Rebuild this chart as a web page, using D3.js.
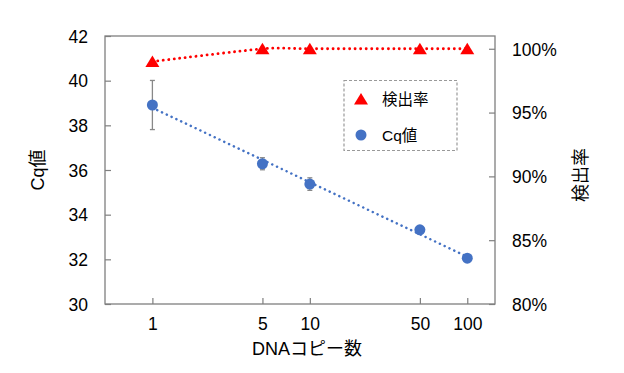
<!DOCTYPE html>
<html><head><meta charset="utf-8">
<script src="https://cdn.jsdelivr.net/npm/d3@7"></script>
<style>
body{margin:0;background:#fff;}
text{font-family:"Liberation Sans",Arial,"Noto Sans CJK JP",sans-serif;fill:#000;}
</style></head>
<body><svg id="c" width="624" height="373"></svg>
<script>
const copies = [1, 5, 10, 50, 100];
const cqValues = [38.91, 36.28, 35.37, 33.32, 32.05];
const cqErrors = [1.1, 0.27, 0.28, 0.1, 0.1];
const detectRate = [0.99, 1.0, 1.0, 1.0, 1.0];
const xTicks = [1, 5, 10, 50, 100];
const leftTicks = [30, 32, 34, 36, 38, 40, 42];
const rightTicks = [0.80, 0.85, 0.90, 0.95, 1.00];

const W = 624, H = 373;
const m = {left:105, right:129, top:36, bottom:69};
const svg = d3.select("#c");
const x = d3.scaleLog().domain([0.5, 150]).range([m.left, W - m.right]);
const yL = d3.scaleLinear().domain([30, 42]).range([H - m.bottom, m.top]);
const yR = d3.scaleLinear().domain([0.80, 1.01]).range([H - m.bottom, m.top]);

const frameCol = "#7f7f7f";
svg.append("rect").attr("x", m.left).attr("y", m.top)
  .attr("width", W - m.left - m.right).attr("height", H - m.top - m.bottom)
  .attr("fill","none").attr("stroke", frameCol).attr("stroke-width",1.3);

const fs = "17.5px";
const axL = svg.append("g").attr("transform",`translate(${m.left},0)`)
  .call(d3.axisLeft(yL).tickValues(leftTicks).tickSize(-6).tickPadding(17).tickFormat(d3.format("d")));
const axR = svg.append("g").attr("transform",`translate(${W-m.right},0)`)
  .call(d3.axisRight(yR).tickValues(rightTicks).tickSize(-6).tickPadding(17).tickFormat(d3.format(".0%")));
const axB = svg.append("g").attr("transform",`translate(0,${H-m.bottom})`)
  .call(d3.axisBottom(x).tickValues(xTicks).tickSize(-6).tickPadding(14).tickFormat(d3.format("d")));
[axL,axR,axB].forEach(a=>{
  a.select(".domain").remove();
  a.selectAll(".tick line").attr("stroke",frameCol).attr("stroke-width",1.2);
  a.selectAll(".tick text").style("font-size",fs).attr("fill","#000");
});
axL.selectAll(".tick text").attr("dy","0.36em");
axR.selectAll(".tick text").attr("dy","0.36em");

svg.append("text").attr("transform","translate(44,170) rotate(-90)")
  .attr("text-anchor","middle").style("font-size","18px").text("Cq値");
svg.append("text").attr("transform","translate(587,175) rotate(-90)")
  .attr("text-anchor","middle").style("font-size","18px").text("検出率");
svg.append("text").attr("x",307).attr("y",355)
  .attr("text-anchor","middle").style("font-size","18px").text("DNAコピー数");

const blue = "#4472C4", red = "#FF0000";

// detection rate smoothed dotted line
const pts = copies.map((c,i)=>[x(c), yR(detectRate[i])]);
svg.append("path").attr("d", d3.line().curve(d3.curveCardinal.tension(0.35))(pts))
  .attr("fill","none").attr("stroke",red).attr("stroke-width",2.8)
  .attr("stroke-dasharray","0.1 5.4").attr("stroke-linecap","round");

// Cq logarithmic trendline (least squares on log10(x))
const lx = copies.map(c=>Math.log10(c));
const mx = d3.mean(lx), my = d3.mean(cqValues);
const slope = d3.sum(lx.map((v,i)=>(v-mx)*(cqValues[i]-my))) / d3.sum(lx.map(v=>(v-mx)**2));
const icpt = my - slope*mx;
const first = copies[0], last = copies[copies.length-1];
svg.append("path")
  .attr("d", d3.line()([[x(first), yL(icpt)], [x(last), yL(icpt + slope*Math.log10(last))]]))
  .attr("fill","none").attr("stroke",blue).attr("stroke-width",2.5)
  .attr("stroke-dasharray","0.1 5.2").attr("stroke-linecap","round");

// error bars
const eg = svg.append("g").attr("stroke","#888").attr("stroke-width",1.3);
copies.forEach((c,i)=>{
  const cx = x(c), y1 = yL(cqValues[i]+cqErrors[i]), y2 = yL(cqValues[i]-cqErrors[i]);
  eg.append("line").attr("x1",cx).attr("x2",cx).attr("y1",y1).attr("y2",y2);
  eg.append("line").attr("x1",cx-2.5).attr("x2",cx+2.5).attr("y1",y1).attr("y2",y1);
  eg.append("line").attr("x1",cx-2.5).attr("x2",cx+2.5).attr("y1",y2).attr("y2",y2);
});

svg.append("g").selectAll("circle").data(copies).join("circle")
  .attr("cx",d=>x(d)).attr("cy",(d,i)=>yL(cqValues[i])).attr("r",5.5).attr("fill",blue);

const tri = "M0,-6L7,5.5L-7,5.5Z";
svg.append("g").selectAll("path").data(copies).join("path")
  .attr("transform",(d,i)=>`translate(${x(d)},${yR(detectRate[i])})`)
  .attr("d",tri).attr("fill",red);

// legend
const lg = svg.append("g");
lg.append("rect").attr("x",344).attr("y",80.5).attr("width",113).attr("height",70)
  .attr("fill","#fff").attr("stroke","#999").attr("stroke-width",1.2).attr("stroke-dasharray","3 2");
lg.append("path").attr("transform","translate(361,99)").attr("d",tri).attr("fill",red);
lg.append("text").attr("x",382).attr("y",99).attr("dy","0.36em").style("font-size","15.5px").text("検出率");
lg.append("circle").attr("cx",361).attr("cy",135).attr("r",5.5).attr("fill",blue);
lg.append("text").attr("x",382).attr("y",135).attr("dy","0.36em").style("font-size","15.5px").text("Cq値");
</script></body></html>
